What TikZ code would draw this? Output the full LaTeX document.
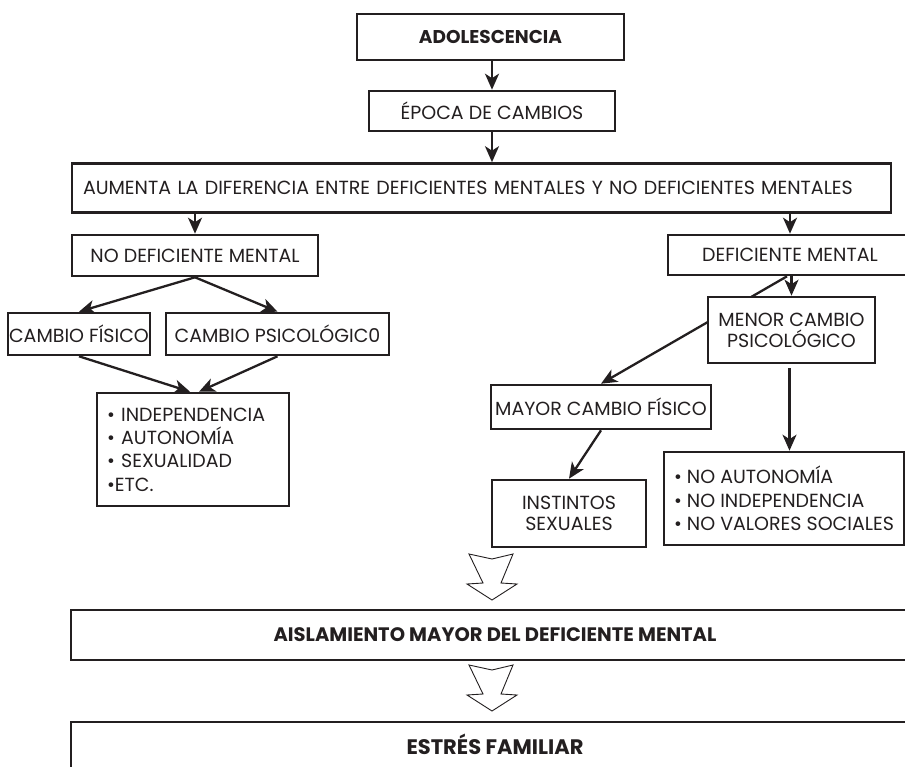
\documentclass[tikz,border=0pt]{standalone}
\usepackage{fontspec}
\setmainfont{Poppins}
\usetikzlibrary{arrows.meta,calc}
\definecolor{ink}{HTML}{231F20}

\begin{document}
\begin{tikzpicture}[x=1pt,y=-1pt,
  box/.style={draw=ink, line width=2.6pt, fill=white, inner sep=0pt,
    align=center, text=ink, font=\fontsize{19}{21}\selectfont},
  boldbox/.style={box, font=\fontsize{18.5}{21}\selectfont\bfseries},
  outbox/.style={box, font=\fontsize{19.5}{21}\selectfont\bfseries},
  listbox/.style={box, align=left, font=\fontsize{19}{23.3}\selectfont},
  link/.style={draw=ink, line width=2.3pt,
    -{Stealth[length=16pt, width=14pt, inset=4.5pt]}},
  openarrow/.pic={\draw[ink, line width=0.9pt, line join=miter, fill=white]
    (-23,0) -- (0,5) -- (21,0) -- (9,29) -- (25,30) -- (0,46)
    -- (-25,30) -- (-9,29) -- cycle;}
]
\useasboundingbox (0,0) rectangle (905,767);

% top of the chain
\node[boldbox, minimum width=267pt, minimum height=46pt] (ado) at (490.5,37) {ADOLESCENCIA};
\node[box, minimum width=246pt, minimum height=40pt] (epoca) at (492,111) {ÉPOCA DE CAMBIOS};
\node[box, minimum width=819pt, minimum height=49pt, text width=797pt, align=left] (aumenta) at (481.5,188)
  {AUMENTA LA DIFERENCIA ENTRE DEFICIENTES MENTALES Y NO DEFICIENTES MENTALES};

\draw[link] (ado.south -| epoca.north) -- (epoca.north);
\draw[link] (epoca.south) -- (epoca.south |- aumenta.north);

% left branch
\node[box, minimum width=246pt, minimum height=41pt] (nodef) at (195,255.5) {NO DEFICIENTE MENTAL};
\node[box, minimum width=142pt, minimum height=42pt] (cfis) at (79,334) {CAMBIO FÍSICO};
\node[box, minimum width=223pt, minimum height=42pt] (cpsi) at (277.5,334) {CAMBIO PSICOLÓGIC0};
\node[listbox, minimum width=192pt, minimum height=113pt, text width=172pt] (lbul) at (193,449.5)
  {• INDEPENDENCIA\\• AUTONOMÍA\\• SEXUALIDAD\\•ETC.};

\draw[link] (aumenta.south -| nodef.north) -- (nodef.north);
\draw[link] (nodef.south) -- (cfis.north);
\draw[link] (nodef.south) -- (cpsi.north);
\draw[link] (cfis.south) -- ($(lbul.north)+(-3,0)$);
\draw[link] (cpsi.south) -- ($(lbul.north)+(6,0)$);

% right branch
\node[box, minimum width=244pt, minimum height=40pt] (def) at (790,255) {DEFICIENTE MENTAL};
\node[box, minimum width=220pt, minimum height=44pt] (mayor) at (601,407) {MAYOR CAMBIO FÍSICO};
\node[box, minimum width=154pt, minimum height=67pt] (inst) at (569,513.5) {INSTINTOS\\SEXUALES};

\draw[link] (aumenta.south -| def.north) -- (def.north);
% this line passes behind the box drawn next
\draw[link] ($(def.south)+(-3,0)$) -- (mayor.north);
\node[box, minimum width=167pt, minimum height=66pt] (menor) at (791.5,330) {MENOR CAMBIO\\PSICOLÓGICO};
\node[listbox, minimum width=240pt, minimum height=93pt] (rbul) at (784,498.5)
  {• NO AUTONOMÍA\\• NO INDEPENDENCIA\\• NO VALORES SOCIALES};

\coordinate (menorout) at ($(menor.south)+(-2,4)$);
\draw[link] (def.south -| menor.north) -- (menor.north);
\draw[link] (menorout) -- (menorout |- rbul.north);
\draw[link] (mayor.south) -- (inst.north);

% outcome
\node[outbox, minimum width=848pt, minimum height=50pt] (aisl) at (495,635) {AISLAMIENTO MAYOR DEL DEFICIENTE MENTAL};
\node[outbox, minimum width=848pt, minimum height=50pt, font=\fontsize{21}{21}\selectfont\bfseries] (estres) at (495,747)
  {\raisebox{6pt}{ESTRÉS FAMILIAR}};

\pic at (492,554) {openarrow};
\pic at (492,665) {openarrow};
\end{tikzpicture}
\end{document}
